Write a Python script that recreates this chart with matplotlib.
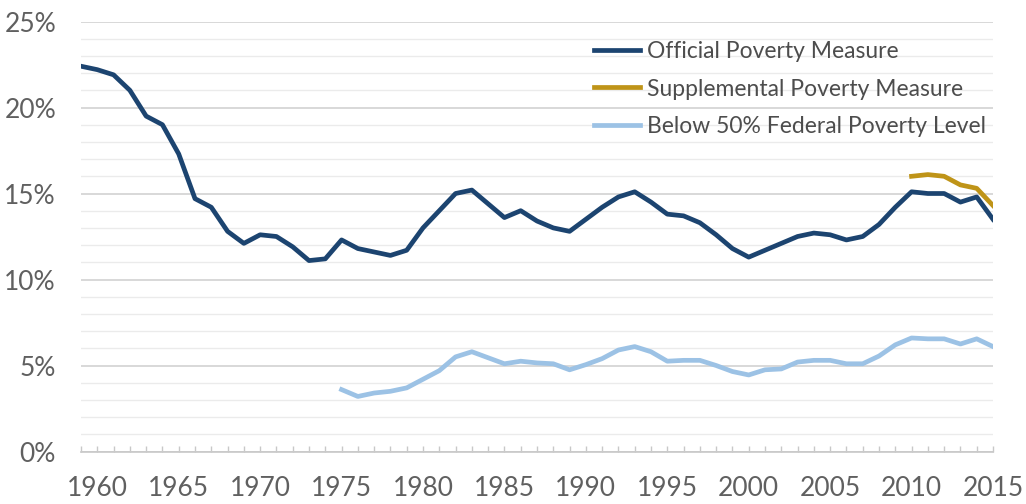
import matplotlib.pyplot as plt
import numpy as np
from matplotlib.ticker import MultipleLocator, FuncFormatter

# values (percent)
years_official = list(range(1959, 2016))
official = [22.4, 22.2, 21.9, 21.0, 19.5, 19.0, 17.3, 14.7, 14.2, 12.8,
            12.1, 12.6, 12.5, 11.9, 11.1, 11.2, 12.3, 11.8, 11.6, 11.4,
            11.7, 13.0, 14.0, 15.0, 15.2, 14.4, 13.6, 14.0, 13.4, 13.0,
            12.8, 13.5, 14.2, 14.8, 15.1, 14.5, 13.8, 13.7, 13.3, 12.6,
            11.8, 11.3, 11.7, 12.1, 12.5, 12.7, 12.6, 12.3, 12.5, 13.2,
            14.2, 15.1, 15.0, 15.0, 14.5, 14.8, 13.5]

years_spm = list(range(2010, 2016))
spm = [16.0, 16.1, 16.0, 15.5, 15.3, 14.3]

years_deep = list(range(1975, 2016))
deep = [3.6, 3.2, 3.4, 3.5, 3.7, 4.2, 4.7, 5.5, 5.8, 5.45,
        5.1, 5.25, 5.15, 5.1, 4.75, 5.05, 5.4, 5.9, 6.1, 5.8,
        5.25, 5.3, 5.3, 5.0, 4.65, 4.45, 4.75, 4.8, 5.2, 5.3,
        5.3, 5.1, 5.1, 5.55, 6.2, 6.6, 6.55, 6.55, 6.25, 6.55, 6.1]

labels = ['Official Poverty Measure', 'Supplemental Poverty Measure',
          'Below 50% Federal Poverty Level']
colors = ['#1c4470', '#bf9418', '#9cc2e5']

plt.rcParams['font.family'] = ['Lato', 'DejaVu Sans']

fig = plt.figure(figsize=(10.26, 5.04), dpi=100)
ax = fig.add_axes([81 / 1026, 1 - 451.5 / 504, 912 / 1026, 430 / 504])

ax.plot(years_official, official, color=colors[0], lw=3.4, label=labels[0],
        solid_joinstyle='round', zorder=3)
ax.plot(years_spm, spm, color=colors[1], lw=3.4, label=labels[1],
        solid_joinstyle='round', zorder=3)
ax.plot(years_deep, deep, color=colors[2], lw=3.4, label=labels[2],
        solid_joinstyle='round', zorder=3)

ax.set_xlim(1959, 2015)
ax.set_ylim(0, 25)

ax.yaxis.set_major_locator(MultipleLocator(5))
ax.yaxis.set_minor_locator(MultipleLocator(1))
ax.yaxis.set_major_formatter(FuncFormatter(lambda v, p: '%d%%' % v))
ax.xaxis.set_major_locator(MultipleLocator(5))
ax.xaxis.set_minor_locator(MultipleLocator(1))

ax.grid(axis='y', which='major', color='#d6d6d6', lw=1.3, zorder=0)
ax.grid(axis='y', which='minor', color='#ebebeb', lw=1.0, zorder=0)

for s in ['top', 'right', 'left']:
    ax.spines[s].set_visible(False)
ax.spines['bottom'].set_color('#c8c8c8')
ax.spines['bottom'].set_linewidth(1.2)

ax.tick_params(axis='y', which='both', length=0, pad=18,
               labelsize=19, labelcolor='#606060')
ax.tick_params(axis='x', which='both', direction='in', length=4,
               color='#c8c8c8', width=1.0, pad=18,
               labelsize=19, labelcolor='#606060')

leg = ax.legend(loc='upper left', bbox_to_anchor=(594 / 1026, 1 - 41 / 504),
                bbox_transform=fig.transFigure, frameon=False,
                fontsize=16.5, handlelength=2.0, handletextpad=0.32,
                labelspacing=0.72, borderpad=0, borderaxespad=0)
for t in leg.get_texts():
    t.set_color('#4d4d4d')
for h in leg.get_lines():
    h.set_linewidth(3.4)

fig.savefig('out.png', dpi=100)
